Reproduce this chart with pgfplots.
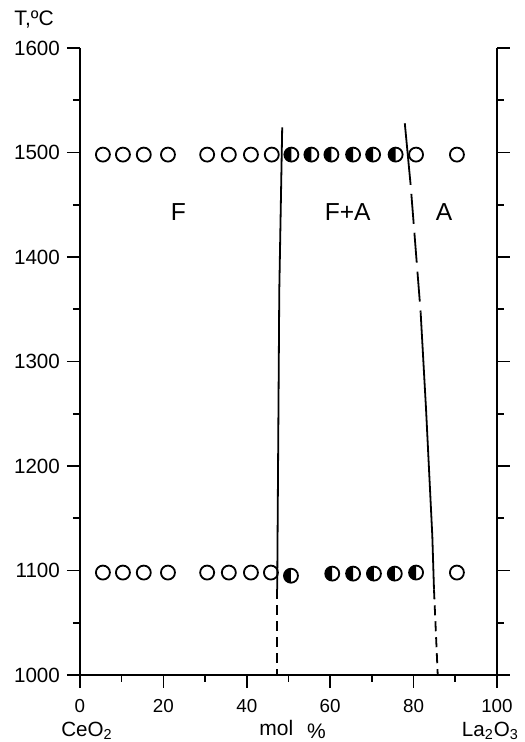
\documentclass[border=0pt]{standalone}
\usepackage{pgfplots}
\pgfplotsset{compat=1.18}
\usepackage{fontspec}
\setmainfont{Liberation Sans}

% circle with left half black, right half white
\pgfdeclareplotmark{lefthalf}{%
  \pgfpathcircle{\pgfpointorigin}{\pgfplotmarksize}%
  \pgfsetfillcolor{white}\pgfusepathqfillstroke
  \pgfpathmoveto{\pgfqpoint{0pt}{\pgfplotmarksize}}%
  \pgfpatharc{90}{270}{\pgfplotmarksize}%
  \pgfpathclose
  \pgfsetfillcolor{black}\pgfusepathqfill
}

\begin{document}
\begin{tikzpicture}
\begin{axis}[
  scale only axis,
  width=208.5pt, height=313.5pt,
  xmin=0, xmax=100, ymin=1000, ymax=1600,
  axis x line=bottom, axis y line=box,
  axis line style={-, line width=1pt},
  xtick={0,20,...,100}, ytick={1000,1100,...,1600},
  minor x tick num=1, minor y tick num=1,
  tick align=outside,
  major tick length=6.5pt, minor tick length=3.5pt,
  tick style={black, line width=0.8pt},
  ytick pos=both, yticklabel pos=left,
  yticklabel style={font=\fontsize{10.3}{12}\selectfont},
  xticklabel style={font=\fontsize{9.4}{11}\selectfont, yshift=-2pt},
  /pgf/number format/assume math mode=true,
  /pgf/number format/set thousands separator={},
  clip=false,
]
% open circles (single phase)
\addplot[only marks, mark=o, mark size=3.5pt, mark options={line width=0.9pt}]
  coordinates {(5.5,1498) (10.3,1498) (15.3,1498) (21.1,1498) (30.5,1498) (35.7,1498)
               (41,1498) (46,1498) (80.6,1498) (90.4,1498)
               (5.5,1098) (10.3,1098) (15.3,1098) (21.1,1098) (30.5,1098) (35.7,1098)
               (41,1098) (45.8,1098) (90.4,1098)};
% half-filled circles (two phases)
\addplot[only marks, mark=lefthalf, mark size=3.5pt,
         mark options={draw=black, line width=0.9pt}]
  coordinates {(50.7,1498) (55.5,1498) (60.3,1498) (65.5,1498) (70.3,1498) (75.7,1498)
               (50.6,1095) (60.5,1097) (65.5,1097) (70.5,1097) (75.5,1097) (80.6,1098)};
% F / F+A boundary
\addplot[black, line width=0.9pt] coordinates {(48.5,1524) (47.8,1368) (47.3,1082)};
\addplot[black, line width=0.9pt, dash pattern=on 5pt off 3pt] coordinates {(47.3,1082) (47.3,1000)};
% F+A / A boundary
\addplot[black, line width=0.9pt] coordinates {(77.9,1528) (79.3,1469)};
\addplot[black, line width=0.9pt, dash pattern=on 15pt off 4.5pt, dash phase=15pt]
  coordinates {(79.3,1469) (81.7,1347)};
\addplot[black, line width=0.9pt] coordinates {(81.7,1347) (83,1254) (84.5,1133) (84.9,1082)};
\addplot[black, line width=0.9pt, dash pattern=on 5pt off 3pt] coordinates {(84.9,1082) (85.8,1000)};

\node[font=\fontsize{12.3}{14}\selectfont] at (axis cs:23.6,1443) {F};
\node[font=\fontsize{12.3}{14}\selectfont] at (axis cs:64.2,1443) {F+A};
\node[font=\fontsize{12.3}{14}\selectfont] at (axis cs:87.3,1443) {A};

\node[font=\fontsize{10.5}{12}\selectfont, anchor=west, inner sep=0pt] at (rel axis cs:-0.158,1.046) {T,ºC};
\node[font=\fontsize{10.3}{12}\selectfont, anchor=base] at (rel axis cs:0.017,-0.098) {CeO\textsubscript{2}};
\node[font=\fontsize{10.5}{12}\selectfont, anchor=base] at (rel axis cs:0.51,-0.097) {mol\hspace{7pt}\raisebox{-0.2ex}{\%}};
\node[font=\fontsize{10.3}{12}\selectfont, anchor=base west, inner sep=0pt] at (rel axis cs:0.915,-0.098) {La\textsubscript{2}O\textsubscript{3}};

\coordinate (bbsw) at (rel axis cs:-0.1918,-0.1069);
\coordinate (bbne) at (rel axis cs:1.0671,1.0766);
\end{axis}
\pgfresetboundingbox
\useasboundingbox (bbsw) rectangle (bbne);
\end{tikzpicture}
\end{document}
